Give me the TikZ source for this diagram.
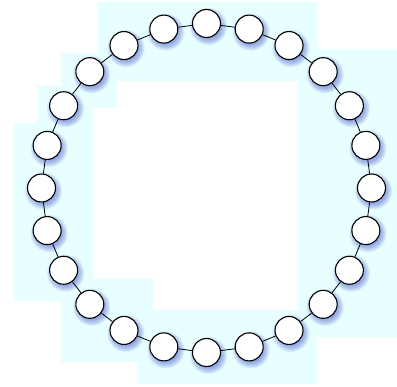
\documentclass[tikz,border=0pt]{standalone}
\definecolor{bgcyan}{RGB}{232,255,255}
\definecolor{shadowblue}{RGB}{50,70,200}
\begin{document}
\begin{tikzpicture}[x=1pt,y=-1pt,
  vtx/.style={circle,draw=black,line width=1.1pt,fill=white,minimum size=28pt,inner sep=0pt},
  link/.style={draw=black,line width=0.8pt},
  shade/.style={fill=shadowblue,opacity=0.09}]
\useasboundingbox (0,0) rectangle (397,387);
\fill[bgcyan,even odd rule]
  (98,2) -- (317,2) -- (317,49) -- (397,49) -- (397,337) -- (317,337) -- (317,384)
  -- (137,384) -- (137,362) -- (61,362) -- (61,301) -- (14,301) -- (14,123)
  -- (37,123) -- (37,86) -- (61,86) -- (61,53) -- (98,53) -- cycle
  (117,81) -- (297,81) -- (297,310) -- (153,310) -- (153,279) -- (93,279)
  -- (93,108) -- (117,108) -- cycle;
\foreach \i in {0,...,23}{
  \pgfmathsetmacro\a{\i*15}
  \foreach \k in {0,...,6}{
    \fill[shade] ({206.5+165*cos(\a)+2},{188-164.5*sin(\a)+3}) circle ({12+\k*1.1});
  }
}
\foreach \i in {0,...,23}{
  \pgfmathsetmacro\a{\i*15}
  \node[vtx] (n\i) at ({206.5+165*cos(\a)},{188-164.5*sin(\a)}) {};
}
\foreach \i [evaluate=\i as \j using {int(mod(\i+1,24))}] in {0,...,23}
  \draw[link] (n\i) -- (n\j);
\end{tikzpicture}
\end{document}
